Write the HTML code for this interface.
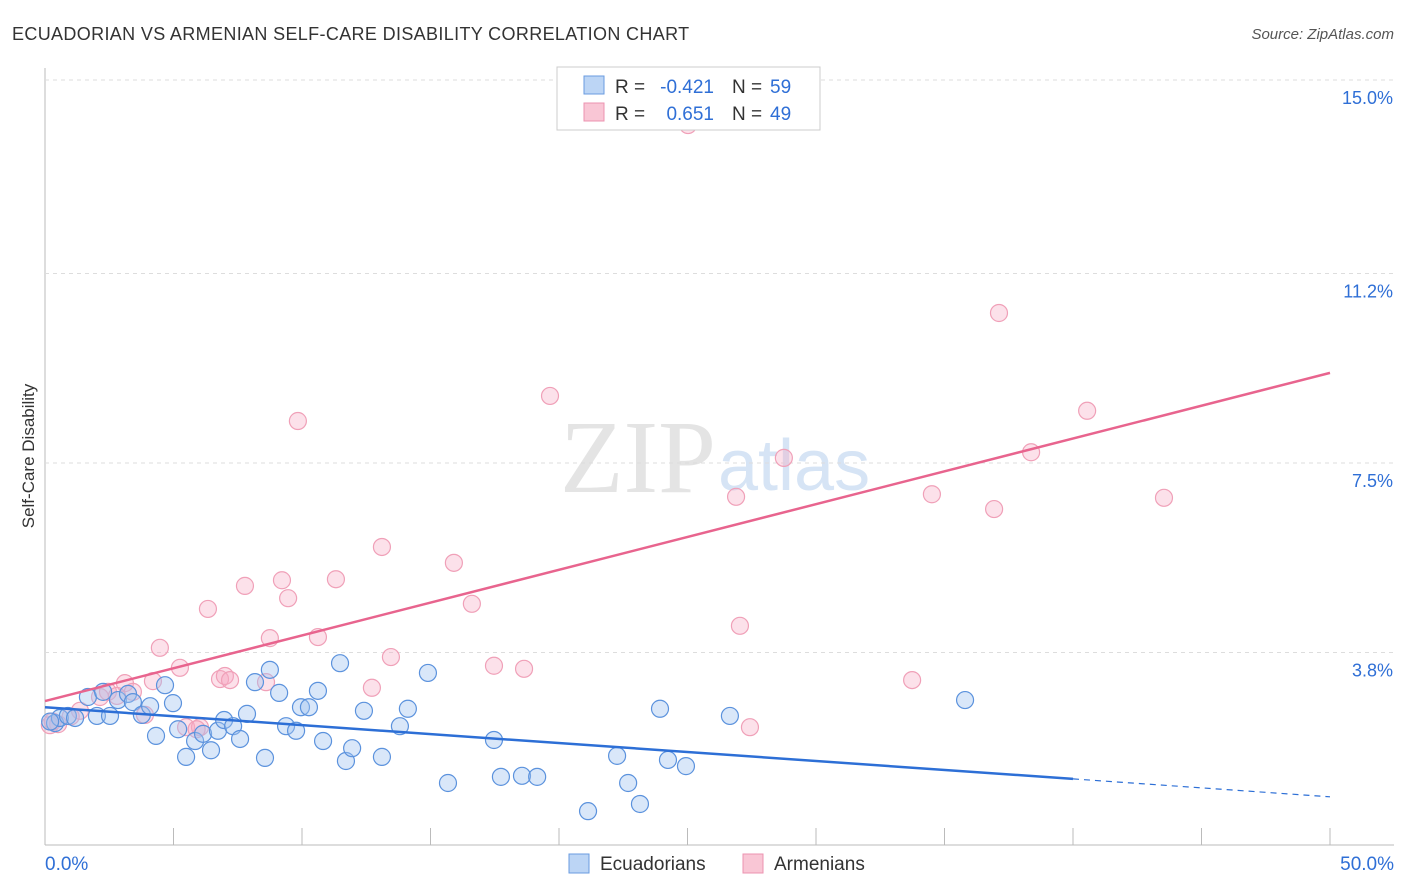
<!DOCTYPE html>
<html><head><meta charset="utf-8">
<style>
body{margin:0;background:#fff;font-family:"Liberation Sans",sans-serif;}
#wrap{position:relative;width:1406px;height:892px;overflow:hidden;}
</style></head>
<body><div id="wrap">
<svg id="svg" width="1406" height="892" xmlns="http://www.w3.org/2000/svg">
<text x="12" y="40" font-size="18" letter-spacing="0.35" fill="#333">ECUADORIAN VS ARMENIAN SELF-CARE DISABILITY CORRELATION CHART</text>
<text x="1394" y="39" font-size="15" fill="#555" font-style="italic" text-anchor="end">Source: ZipAtlas.com</text>
<text x="716" y="492" font-size="104" fill="#e4e4e4" text-anchor="end" font-family="Liberation Serif,serif">ZIP</text>
<text x="718" y="490" font-size="72" fill="#d6e4f5">atlas</text>
<text transform="translate(34,456) rotate(-90)" font-size="17" fill="#333" text-anchor="middle">Self-Care Disability</text>
<g id="grid"></g><g id="pts"></g><g id="lines"></g>
<g>
<rect x="557" y="67" width="263" height="63" fill="#fff" stroke="#ccc"/>
<rect x="584" y="76" width="20" height="18" fill="#bcd5f5" stroke="#6a9be0"/>
<rect x="584" y="103" width="20" height="18" fill="#f9c6d5" stroke="#ec93b0"/>
<text x="615" y="93" font-size="19" fill="#333">R =</text>
<text x="714" y="93" font-size="19" fill="#2f6fd6" text-anchor="end">-0.421</text>
<text x="732" y="93" font-size="19" fill="#333">N =</text>
<text x="770" y="93" font-size="19" fill="#2f6fd6">59</text>
<text x="615" y="120" font-size="19" fill="#333">R =</text>
<text x="714" y="120" font-size="19" fill="#2f6fd6" text-anchor="end">0.651</text>
<text x="732" y="120" font-size="19" fill="#333">N =</text>
<text x="770" y="120" font-size="19" fill="#2f6fd6">49</text>
</g>
<g>
<rect x="569" y="854" width="20" height="19" fill="#bcd5f5" stroke="#6a9be0"/>
<text x="600" y="870" font-size="19" fill="#333">Ecuadorians</text>
<rect x="743" y="854" width="20" height="19" fill="#f9c6d5" stroke="#ec93b0"/>
<text x="774" y="870" font-size="19" fill="#333">Armenians</text>
</g>
</svg>
<script>
const yTicks=[3.8,7.5,11.2,15.0];
const yTickLabels=["3.8%","7.5%","11.2%","15.0%"];
const blueX=[0.39,0.58,0.89,1.17,1.67,2.02,2.26,2.53,2.84,3.23,3.42,3.77,4.09,4.32,4.67,4.98,5.18,5.49,5.84,6.15,6.46,6.73,6.97,7.32,7.59,7.86,8.17,8.56,8.75,9.11,9.38,9.77,9.96,10.27,10.62,10.82,11.48,11.71,11.95,12.41,13.11,13.81,14.12,14.90,15.68,17.47,17.74,18.56,19.15,21.13,22.26,22.69,23.15,23.93,24.24,24.94,26.65,35.80,0.2];
const blueY=[2.42,2.52,2.56,2.52,2.93,2.56,3.03,2.56,2.87,2.99,2.83,2.58,2.75,2.17,3.16,2.81,2.30,1.76,2.07,2.21,1.89,2.27,2.48,2.36,2.11,2.60,3.22,1.74,3.46,3.01,2.36,2.27,2.73,2.73,3.05,2.07,3.59,1.68,1.93,2.66,1.76,2.36,2.70,3.40,1.25,2.09,1.37,1.39,1.37,0.70,1.78,1.25,0.84,2.70,1.70,1.58,2.56,2.87,2.45];
const pinkX=[0.19,0.51,1.36,2.14,2.45,3.11,3.42,3.89,4.20,4.47,5.25,5.49,6.03,6.34,6.81,7.00,7.20,7.78,8.60,8.75,9.22,9.46,9.84,10.62,11.32,12.72,13.11,13.46,15.91,16.61,17.47,18.64,19.65,25.02,26.89,27.04,27.43,28.75,33.74,34.51,36.93,37.12,38.37,40.55,43.54,0.3,1.0,2.8,5.9];
const pinkY=[2.38,2.40,2.66,2.93,3.03,3.20,3.03,2.58,3.24,3.89,3.50,2.34,2.34,4.65,3.28,3.34,3.26,5.10,3.22,4.08,5.21,4.86,8.32,4.10,5.23,3.11,5.86,3.71,5.55,4.75,3.54,3.48,8.81,14.10,6.84,4.32,2.34,7.60,3.26,6.89,6.60,10.43,7.71,8.52,6.82,2.45,2.55,2.95,2.30];
const blueTrend=[2.73,0.98];
const pinkTrend=[2.85,9.26];
const NS="http://www.w3.org/2000/svg";
const X=v=>45+v/50*1285, Y=v=>847-v/3.75*192;
function mk(t,a,p){const e=document.createElementNS(NS,t);for(const k in a)e.setAttribute(k,a[k]);document.getElementById(p).appendChild(e);return e;}
let e;
e=mk('line',{x1:45,y1:68,x2:45,y2:845,stroke:'#bbb'},'grid');


e=mk('line',{x1:45,y1:845,x2:1394,y2:845,stroke:'#bbb'},'grid');


for(let i=0;i<=10;i++){e=mk('line',{x1:45+i*128.5,y1:828,x2:45+i*128.5,y2:845,stroke:'#bbb'},'grid');

}
yTicks.forEach((t,i)=>{const y=Y(t)+(i==3?1:0);
e=mk('line',{x1:45,y1:y,x2:1394,y2:y,stroke:'#ddd','stroke-dasharray':'4,4'},'grid');


e=mk('text',{x:1393,y:y+24,'font-size':18,fill:'#2f6fd6','text-anchor':'end'},'grid');e.textContent=yTickLabels[i];

});
e=mk('text',{x:45,y:870,'font-size':19,fill:'#2f6fd6'},'grid');e.textContent='0.0%';


e=mk('text',{x:1394,y:870,'font-size':19,fill:'#2f6fd6','text-anchor':'end'},'grid');e.textContent='50.0%';


pinkX.forEach((v,i)=>{e=mk('circle',{cx:X(v),cy:Y(pinkY[i]),r:8.5,fill:'rgba(246,170,195,0.35)',stroke:'#f0a0b8','stroke-width':1.2},'pts');

});
blueX.forEach((v,i)=>{e=mk('circle',{cx:X(v),cy:Y(blueY[i]),r:8.5,fill:'rgba(160,195,240,0.4)',stroke:'#5b92dd','stroke-width':1.2},'pts');

});
const bAt=x=>blueTrend[0]+(blueTrend[1]-blueTrend[0])*x/50;
e=mk('line',{x1:X(0),y1:Y(bAt(0)),x2:X(40),y2:Y(bAt(40)),stroke:'#2d6fd6','stroke-width':2.5},'lines');


e=mk('line',{x1:X(40),y1:Y(bAt(40)),x2:X(50),y2:Y(bAt(50)),stroke:'#2d6fd6','stroke-width':1.2,'stroke-dasharray':'6,5'},'lines');


e=mk('line',{x1:X(0),y1:Y(pinkTrend[0]),x2:X(50),y2:Y(pinkTrend[1]),stroke:'#e8648e','stroke-width':2.5},'lines');


</script>
</div></body></html>
